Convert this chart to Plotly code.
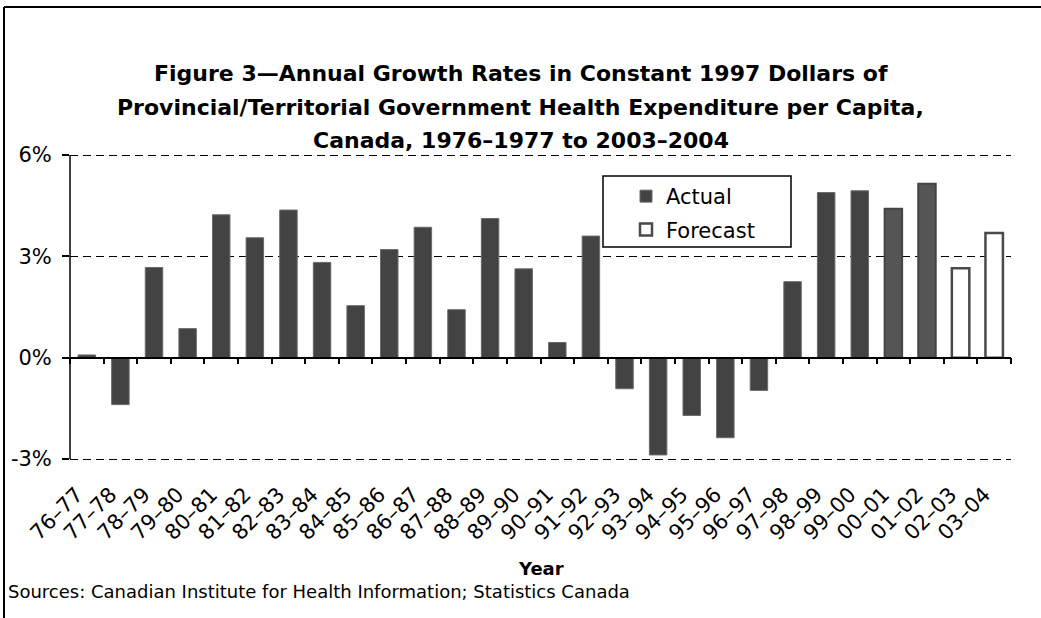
import plotly.graph_objects as go

W, H = 1041, 618
PAD_PX = 2
ML, MR, MT, MB = 70, 30, 155 - PAD_PX, 159 - PAD_PX

years = ["76–77", "77–78", "78–79", "79–80", "80–81", "81–82", "82–83", "83–84",
         "84–85", "85–86", "86–87", "87–88", "88–89", "89–90", "90–91", "91–92",
         "92–93", "93–94", "94–95", "95–96", "96–97", "97–98", "98–99", "99–00",
         "00–01", "01–02", "02–03", "03–04"]

actual_years = years[:26]
actual_values = [0.08, -1.39, 2.67, 0.86, 4.23, 3.55, 4.37, 2.82, 1.54, 3.20,
                 3.86, 1.42, 4.12, 2.63, 0.45, 3.60, -0.92, -2.88, -1.71, -2.37,
                 -0.97, 2.25, 4.89, 4.94, 4.41, 5.15]
forecast_years = years[26:]
forecast_values = [2.65, 3.69]

y_ticks = [-3, 0, 3, 6]
y_tick_text = ["-3%", "0%", "3%", "6%"]
y_min, y_max = -3, 6

title_lines = [
    "Figure 3—Annual Growth Rates in Constant 1997 Dollars of",
    "Provincial/Territorial Government Health Expenditure per Capita,",
    "Canada, 1976–1977 to 2003–2004",
]
source_text = "Sources: Canadian Institute for Health Information; Statistics Canada"

FONT = "DejaVu Sans"
actual_fill = ["#434343"] * 24 + ["#555555"] * 2
actual_line = ["#6a6a6a"] * 24 + ["#444444"] * 2
actual_lw = [1] * 24 + [2] * 2

fig = go.Figure()
fig.add_trace(go.Bar(
    x=actual_years, y=actual_values, name="Actual", legendgroup="a",
    xaxis="x", yaxis="y",
    marker=dict(color=actual_fill, line=dict(color=actual_line, width=actual_lw)),
))
fig.add_trace(go.Bar(
    x=forecast_years, y=forecast_values, name="Forecast", legendgroup="f",
    xaxis="x2", yaxis="y",
    marker=dict(color="white", line=dict(color="#4a4a4a", width=2.5)),
))

pw = W - ML - MR
ph = H - MT - MB
pad_units = PAD_PX * (y_max - y_min) / (ph - 2 * PAD_PX)
y_range = [y_min - pad_units, y_max + pad_units]

def px_x(x):
    return (x - ML) / pw

def px_y(y):
    return (H - MB - y) / ph

annotations = []
for line, yc in zip(title_lines, [74, 107, 140]):
    annotations.append(dict(
        text="<b>" + line + "</b>", x=px_x(W / 2), xref="paper", y=px_y(yc), yref="paper",
        xanchor="center", yanchor="middle", showarrow=False,
        font=dict(family=FONT, size=22, color="black"),
    ))
annotations.append(dict(
    text=source_text, x=px_x(6), xref="paper", y=px_y(591), yref="paper",
    xanchor="left", yanchor="middle", showarrow=False,
    font=dict(family=FONT, size=18, color="black"),
))
annotations.append(dict(
    text="<b>Year</b>", x=px_x((ML + W - MR) / 2), xref="paper", y=px_y(568), yref="paper",
    xanchor="center", yanchor="middle", showarrow=False,
    font=dict(family=FONT, size=18, color="black"),
))

zero_pos = (0 - y_range[0]) / (y_range[1] - y_range[0])

fig.update_layout(
    width=W, height=H,
    margin=dict(l=ML, r=MR, t=MT, b=MB),
    paper_bgcolor="white", plot_bgcolor="white",
    barmode="overlay", bargap=0.48,
    showlegend=True,
    legend=dict(
        x=px_x(626), y=px_y(176), xanchor="left", yanchor="top",
        bgcolor="rgba(0,0,0,0)", borderwidth=0,
        font=dict(family=FONT, size=21, color="black"),
        itemwidth=30, tracegroupgap=3,
    ),
    annotations=annotations,
    xaxis=dict(
        type="category", categoryarray=years, categoryorder="array",
        range=[-0.5, len(years) - 0.5],
        showline=False, ticks="", showgrid=False, zeroline=False,
        tickangle=-45, tickfont=dict(family=FONT, size=21, color="black"),
        ticklabelshift=-10, ticklabelstandoff=18 - PAD_PX,
    ),
    xaxis2=dict(
        overlaying="x", anchor="free", position=zero_pos,
        type="category", categoryarray=years, categoryorder="array",
        range=[-0.5, len(years) - 0.5],
        showline=True, linecolor="black", linewidth=1.5,
        ticks="outside", ticklen=6, tickwidth=1.5, tickcolor="black",
        tickson="boundaries", showticklabels=False, showgrid=False, zeroline=False,
    ),
    yaxis=dict(
        range=y_range, tickvals=y_ticks, ticktext=y_tick_text,
        showgrid=True, gridcolor="black", gridwidth=1, griddash="8px,5px",
        zeroline=True, zerolinecolor="black", zerolinewidth=1.5,
        showline=False,
        ticks="outside", ticklen=7, tickwidth=1.5, tickcolor="black",
        tickfont=dict(family=FONT, size=21, color="black"),
        ticklabelstandoff=6,
    ),
    shapes=[
        dict(type="line", xref="paper", yref="paper", x0=px_x(4), x1=px_x(W), y0=px_y(7), y1=px_y(7),
             line=dict(color="black", width=2)),
        dict(type="line", xref="paper", yref="paper", x0=px_x(4), x1=px_x(4), y0=px_y(7), y1=px_y(H),
             line=dict(color="black", width=2)),
        dict(type="line", xref="paper", yref="y", x0=0, x1=0, y0=y_min, y1=y_max,
             line=dict(color="black", width=1.5), layer="above"),
        dict(type="rect", xref="paper", yref="paper", x0=px_x(603), x1=px_x(791),
             y0=px_y(176), y1=px_y(247), line=dict(color="black", width=1.5),
             fillcolor="rgba(0,0,0,0)", layer="above"),
    ],
)

fig.write_html("out.html", post_script="document.body.style.margin='0px';",
               config={"displayModeBar": False})
